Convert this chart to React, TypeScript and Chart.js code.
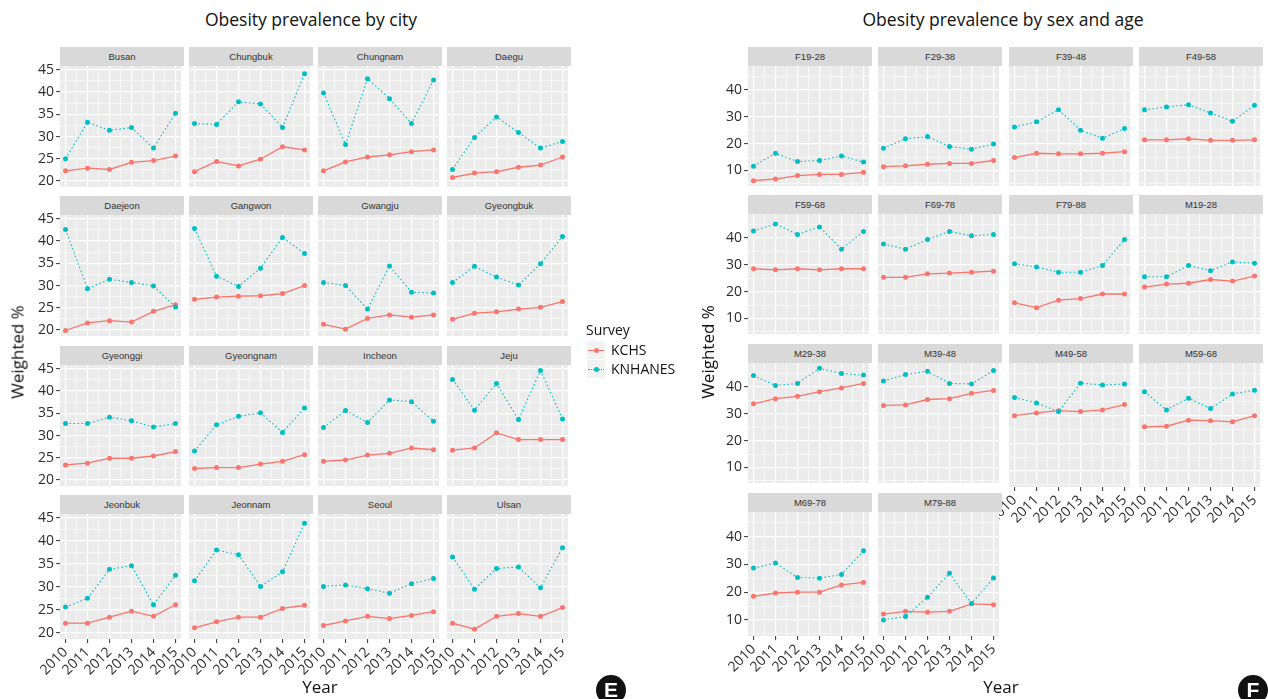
import React, { useEffect, useRef } from 'react';
import { Chart, registerables } from 'chart.js';

Chart.register(...registerables);

// ---- data ----
const years = [2010, 2011, 2012, 2013, 2014, 2015];
const xGridValues = [2010, 2010.5, 2011, 2011.5, 2012, 2012.5, 2013, 2013.5, 2014, 2014.5, 2015];

const cityNames = [
  'Busan', 'Chungbuk', 'Chungnam', 'Daegu',
  'Daejeon', 'Gangwon', 'Gwangju', 'Gyeongbuk',
  'Gyeonggi', 'Gyeongnam', 'Incheon', 'Jeju',
  'Jeonbuk', 'Jeonnam', 'Seoul', 'Ulsan',
];

const cityKCHS = [
  [22.3, 22.9, 22.6, 24.2, 24.6, 25.6],
  [22.1, 24.4, 23.4, 24.9, 27.7, 27.0],
  [22.3, 24.3, 25.4, 25.9, 26.6, 27.0],
  [20.8, 21.8, 22.1, 23.1, 23.6, 25.4],
  [19.9, 21.6, 22.1, 21.8, 24.2, 25.7],
  [26.9, 27.4, 27.6, 27.7, 28.2, 30.0],
  [21.3, 20.2, 22.6, 23.4, 22.9, 23.4],
  [22.4, 23.8, 24.1, 24.7, 25.1, 26.4],
  [23.4, 23.8, 24.9, 24.9, 25.4, 26.4],
  [22.6, 22.8, 22.8, 23.6, 24.2, 25.7],
  [24.2, 24.5, 25.6, 26.0, 27.2, 26.8],
  [26.7, 27.2, 30.6, 29.1, 29.1, 29.1],
  [22.1, 22.1, 23.4, 24.7, 23.6, 26.1],
  [21.1, 22.4, 23.4, 23.4, 25.3, 26.0],
  [21.6, 22.6, 23.6, 23.1, 23.8, 24.6],
  [22.1, 20.8, 23.6, 24.2, 23.6, 25.5],
];

const cityKNHANES = [
  [25.0, 33.2, 31.4, 32.0, 27.4, 35.2],
  [32.9, 32.7, 37.8, 37.3, 32.0, 44.1],
  [39.8, 28.2, 43.0, 38.5, 32.9, 42.7],
  [22.6, 29.8, 34.4, 30.9, 27.4, 28.9],
  [42.6, 29.3, 31.4, 30.7, 29.9, 25.2],
  [42.8, 32.1, 29.8, 33.9, 40.8, 37.2],
  [30.7, 30.0, 24.7, 34.4, 28.5, 28.3],
  [30.7, 34.3, 31.9, 30.1, 34.9, 41.0],
  [32.7, 32.7, 34.1, 33.3, 31.9, 32.7],
  [26.5, 32.4, 34.3, 35.1, 30.7, 36.2],
  [31.8, 35.6, 32.9, 38.0, 37.6, 33.2],
  [42.6, 35.7, 41.7, 33.6, 44.6, 33.7],
  [25.6, 27.5, 33.8, 34.6, 26.1, 32.5],
  [31.3, 38.0, 37.0, 30.1, 33.3, 43.8],
  [30.1, 30.4, 29.6, 28.6, 30.7, 31.8],
  [36.5, 29.5, 34.0, 34.3, 29.8, 38.5],
];

const groupNames = [
  'F19-28', 'F29-38', 'F39-48', 'F49-58',
  'F59-68', 'F69-78', 'F79-88', 'M19-28',
  'M29-38', 'M39-48', 'M49-58', 'M59-68',
  'M69-78', 'M79-88',
];

const groupKCHS = [
  [6.2, 6.8, 8.1, 8.5, 8.5, 9.3],
  [11.4, 11.7, 12.3, 12.6, 12.6, 13.7],
  [14.8, 16.4, 16.2, 16.2, 16.4, 17.0],
  [21.4, 21.4, 21.8, 21.2, 21.2, 21.4],
  [28.5, 28.1, 28.5, 28.1, 28.5, 28.5],
  [25.3, 25.3, 26.6, 26.9, 27.2, 27.6],
  [15.8, 14.0, 16.8, 17.4, 19.1, 19.1],
  [21.7, 22.8, 23.1, 24.5, 23.9, 25.8],
  [33.7, 35.6, 36.5, 38.2, 39.6, 41.3],
  [33.1, 33.3, 35.3, 35.6, 37.6, 38.7],
  [29.9, 30.9, 31.7, 31.4, 32.0, 33.9],
  [25.9, 26.1, 28.3, 28.1, 27.7, 29.9],
  [18.5, 19.7, 20.0, 20.0, 22.6, 23.5],
  [12.1, 13.1, 12.8, 13.1, 15.8, 15.5],
];

const groupKNHANES = [
  [11.6, 16.4, 13.3, 13.7, 15.4, 13.1],
  [18.3, 21.8, 22.6, 18.9, 17.9, 19.8],
  [26.2, 28.1, 32.6, 25.0, 22.0, 25.6],
  [32.6, 33.6, 34.5, 31.4, 28.3, 34.3],
  [42.6, 45.2, 41.3, 44.1, 35.8, 42.4],
  [37.7, 35.8, 39.4, 42.4, 40.8, 41.3],
  [30.4, 29.2, 27.2, 27.2, 29.7, 39.4],
  [25.5, 25.5, 29.7, 27.8, 31.0, 30.6],
  [44.2, 40.5, 41.3, 46.9, 45.0, 44.4],
  [42.2, 44.6, 45.8, 41.3, 41.1, 46.1],
  [36.5, 34.5, 31.4, 41.6, 41.0, 41.3],
  [38.5, 32.0, 36.2, 32.5, 37.7, 39.1],
  [28.7, 30.5, 25.3, 25.0, 26.4, 34.9],
  [10.0, 11.2, 18.2, 26.8, 15.9, 25.1],
];

const cityYMajor = [20, 25, 30, 35, 40, 45];
const cityYMinor = [22.5, 27.5, 32.5, 37.5, 42.5];
const groupYMajor = [10, 20, 30, 40];
const groupYMinor = [5, 15, 25, 35, 45];

// ---- styling ----
const RED = '#F8766D';
const TEAL = '#00BFC4';
const AXIS_FONT = "'Open Sans', 'Noto Sans', sans-serif";
const STRIP_FONT = "'Liberation Sans', Arial, sans-serif";

const panelBackground = {
  id: 'panelBackground',
  beforeDraw(chart: any) {
    const { ctx, chartArea: a } = chart;
    ctx.save();
    ctx.fillStyle = '#EBEBEB';
    ctx.fillRect(a.left, a.top, a.right - a.left, a.bottom - a.top);
    ctx.restore();
  },
};

type PanelProps = {
  name: string;
  kchs: number[];
  knhanes: number[];
  left: number;
  top: number;
  width: number;
  height: number;
  yMin: number;
  yMax: number;
  yMajor: number[];
  yMinor: number[];
  showY: boolean;
  showX: boolean;
};

const PAD_L = 40;
const PAD_T = 8;
const PAD_R = 1;
const X_AXIS_H = 42;
const STRIP_H = 19;

function Panel(p: PanelProps) {
  const ref = useRef<HTMLCanvasElement | null>(null);
  const padB = p.showX ? X_AXIS_H : 0;
  const cw = PAD_L + p.width + PAD_R;
  const ch = PAD_T + p.height + padB;

  useEffect(() => {
    if (!ref.current) return;
    const yTicks = [...p.yMajor, ...p.yMinor].sort((a, b) => a - b);
    const isMajorY = (v: number) => p.yMajor.includes(v);
    const isMajorX = (v: number) => Number.isInteger(v);
    const chart = new Chart(ref.current, {
      type: 'line',
      data: {
        datasets: [
          {
            label: 'KNHANES',
            data: years.map((x, i) => ({ x, y: p.knhanes[i] })),
            borderColor: TEAL,
            backgroundColor: TEAL,
            borderWidth: 1.1,
            borderDash: [1.6, 2.4],
            pointRadius: 2.5,
            pointBorderWidth: 0,
            pointBackgroundColor: TEAL,
            tension: 0,
          },
          {
            label: 'KCHS',
            data: years.map((x, i) => ({ x, y: p.kchs[i] })),
            borderColor: RED,
            backgroundColor: RED,
            borderWidth: 1.3,
            pointRadius: 2.5,
            pointBorderWidth: 0,
            pointBackgroundColor: RED,
            tension: 0,
          },
        ],
      },
      options: {
        animation: false,
        responsive: false,
        maintainAspectRatio: false,
        events: [],
        layout: {
          padding: { left: p.showY ? 0 : PAD_L, top: PAD_T, right: PAD_R, bottom: 0 },
        },
        plugins: {
          legend: { display: false },
          tooltip: { enabled: false },
        },
        scales: {
          x: {
            type: 'linear',
            min: 2009.75,
            max: 2015.25,
            border: { display: false },
            grid: {
              color: '#FFFFFF',
              lineWidth: (ctx: any) => (ctx.tick && isMajorX(ctx.tick.value) ? 1.2 : 0.6),
              drawTicks: p.showX,
              tickLength: 4,
              tickWidth: 1,
              tickColor: (ctx: any) => (ctx.tick && isMajorX(ctx.tick.value) ? '#333333' : 'rgba(0,0,0,0)'),
            },
            ticks: {
              display: p.showX,
              autoSkip: false,
              minRotation: 45,
              maxRotation: 45,
              padding: 1,
              color: '#2B2B2B',
              font: { family: AXIS_FONT, size: 14 },
              callback: (v: any) => (Number.isInteger(v) ? String(v) : ''),
            },
            afterBuildTicks: (s: any) => {
              s.ticks = xGridValues.map((value) => ({ value }));
            },
            afterFit: (s: any) => {
              s.height = padB;
              s.paddingLeft = 0;
              s.paddingRight = 0;
            },
          },
          y: {
            type: 'linear',
            min: p.yMin,
            max: p.yMax,
            border: { display: false },
            grid: {
              color: '#FFFFFF',
              lineWidth: (ctx: any) => (ctx.tick && isMajorY(ctx.tick.value) ? 1.2 : 0.6),
              drawTicks: p.showY,
              tickLength: 4,
              tickWidth: 1,
              tickColor: (ctx: any) => (ctx.tick && isMajorY(ctx.tick.value) ? '#333333' : 'rgba(0,0,0,0)'),
            },
            ticks: {
              display: p.showY,
              autoSkip: false,
              padding: 2,
              color: '#2B2B2B',
              font: { family: AXIS_FONT, size: 14 },
              callback: (v: any) => (isMajorY(v) ? String(v) : ''),
            },
            afterBuildTicks: (s: any) => {
              s.ticks = yTicks.map((value) => ({ value }));
            },
            afterFit: (s: any) => {
              s.width = p.showY ? PAD_L : 0;
              s.paddingTop = 0;
              s.paddingBottom = 0;
            },
          },
        },
      } as any,
      plugins: [panelBackground],
    });
    return () => chart.destroy();
  }, []);

  return (
    <>
      <div
        style={{
          position: 'absolute',
          left: p.left,
          top: p.top - STRIP_H,
          width: p.width,
          height: STRIP_H,
          background: '#D9D9D9',
          color: '#333333',
          font: `9.5px ${STRIP_FONT}`,
          lineHeight: `${STRIP_H}px`,
          textAlign: 'center',
        }}
      >
        {p.name}
      </div>
      <canvas
        ref={ref}
        width={cw}
        height={ch}
        style={{ position: 'absolute', left: p.left - PAD_L, top: p.top - PAD_T, width: cw, height: ch }}
      />
    </>
  );
}

// ---- layout ----
const cityCols = [60, 189, 318, 447];
const cityRows = [66, 215, 365, 514];
const cityPanelW = 124;
const cityPanelH = 125;

const groupCols = [748, 878, 1009, 1139];
const groupRows = [66, 214, 363, 512];
const groupPanelW = 124;
const groupPanelH = 124;

const textBase: React.CSSProperties = {
  position: 'absolute',
  fontFamily: AXIS_FONT,
  color: '#111111',
  whiteSpace: 'nowrap',
};

function Centered({ x, y, size, text, rotate }: { x: number; y: number; size: number; text: string; rotate?: boolean }) {
  return (
    <div
      style={{
        ...textBase,
        left: x,
        top: y,
        fontSize: size,
        lineHeight: 1,
        transform: `translate(-50%, -50%)${rotate ? ' rotate(-90deg)' : ''}`,
      }}
    >
      {text}
    </div>
  );
}

function LegendKey({ y, color, dotted }: { y: number; color: string; dotted?: boolean }) {
  return (
    <div style={{ position: 'absolute', left: 587, top: y - 9, width: 18, height: 18, background: '#F2F2F2' }}>
      <div
        style={{
          position: 'absolute',
          left: 1,
          top: 8.5,
          width: 16,
          height: 0,
          borderTop: `1.3px ${dotted ? 'dotted' : 'solid'} ${color}`,
        }}
      />
      <div
        style={{
          position: 'absolute',
          left: 6.5,
          top: 6.5,
          width: 5,
          height: 5,
          borderRadius: '50%',
          background: color,
        }}
      />
    </div>
  );
}

function Badge({ x, y, letter }: { x: number; y: number; letter: string }) {
  return (
    <div
      style={{
        position: 'absolute',
        left: x - 15,
        top: y - 15,
        width: 30,
        height: 30,
        borderRadius: '50%',
        background: '#111111',
        color: '#FFFFFF',
        font: `bold 21px 'Liberation Sans', Arial, sans-serif`,
        lineHeight: '30px',
        textAlign: 'center',
      }}
    >
      {letter}
    </div>
  );
}

export default function App() {
  useEffect(() => {
    document.body.style.margin = '0';
  }, []);

  return (
    <div
      style={{
        position: 'fixed',
        left: 0,
        top: 0,
        width: 1268,
        height: 699,
        background: '#FFFFFF',
        overflow: 'hidden',
      }}
    >
      <Centered x={311} y={20} size={17.5} text="Obesity prevalence by city" />
      <Centered x={1003} y={20} size={17.5} text="Obesity prevalence by sex and age" />

      {cityNames.map((name, i) => (
        <Panel
          key={name}
          name={name}
          kchs={cityKCHS[i]}
          knhanes={cityKNHANES[i]}
          left={cityCols[i % 4]}
          top={cityRows[Math.floor(i / 4)]}
          width={cityPanelW}
          height={cityPanelH}
          yMin={18.665}
          yMax={45.835}
          yMajor={cityYMajor}
          yMinor={cityYMinor}
          showY={i % 4 === 0}
          showX={Math.floor(i / 4) === 3}
        />
      ))}

      {groupNames.map((name, i) => (
        <Panel
          key={name}
          name={name}
          kchs={groupKCHS[i]}
          knhanes={groupKNHANES[i]}
          left={groupCols[i % 4]}
          top={groupRows[Math.floor(i / 4)]}
          width={groupPanelW}
          height={groupPanelH}
          yMin={4.2}
          yMax={48.9}
          yMajor={groupYMajor}
          yMinor={groupYMinor}
          showY={i % 4 === 0}
          showX={i >= 10}
        />
      ))}

      <Centered x={17} y={352} size={17} text="Weighted %" rotate />
      <Centered x={707} y={352} size={17} text="Weighted %" rotate />
      <Centered x={320} y={686} size={17} text="Year" />
      <Centered x={1001} y={686} size={17} text="Year" />

      <div style={{ ...textBase, left: 586, top: 322, fontSize: 14, lineHeight: '16px' }}>Survey</div>
      <LegendKey y={350} color={RED} />
      <LegendKey y={369} color={TEAL} dotted />
      <div style={{ ...textBase, left: 611, top: 342, fontSize: 14, lineHeight: '16px' }}>KCHS</div>
      <div style={{ ...textBase, left: 611, top: 361, fontSize: 14, lineHeight: '16px' }}>KNHANES</div>

      <Badge x={611} y={690} letter="E" />
      <Badge x={1253} y={690} letter="F" />
    </div>
  );
}
